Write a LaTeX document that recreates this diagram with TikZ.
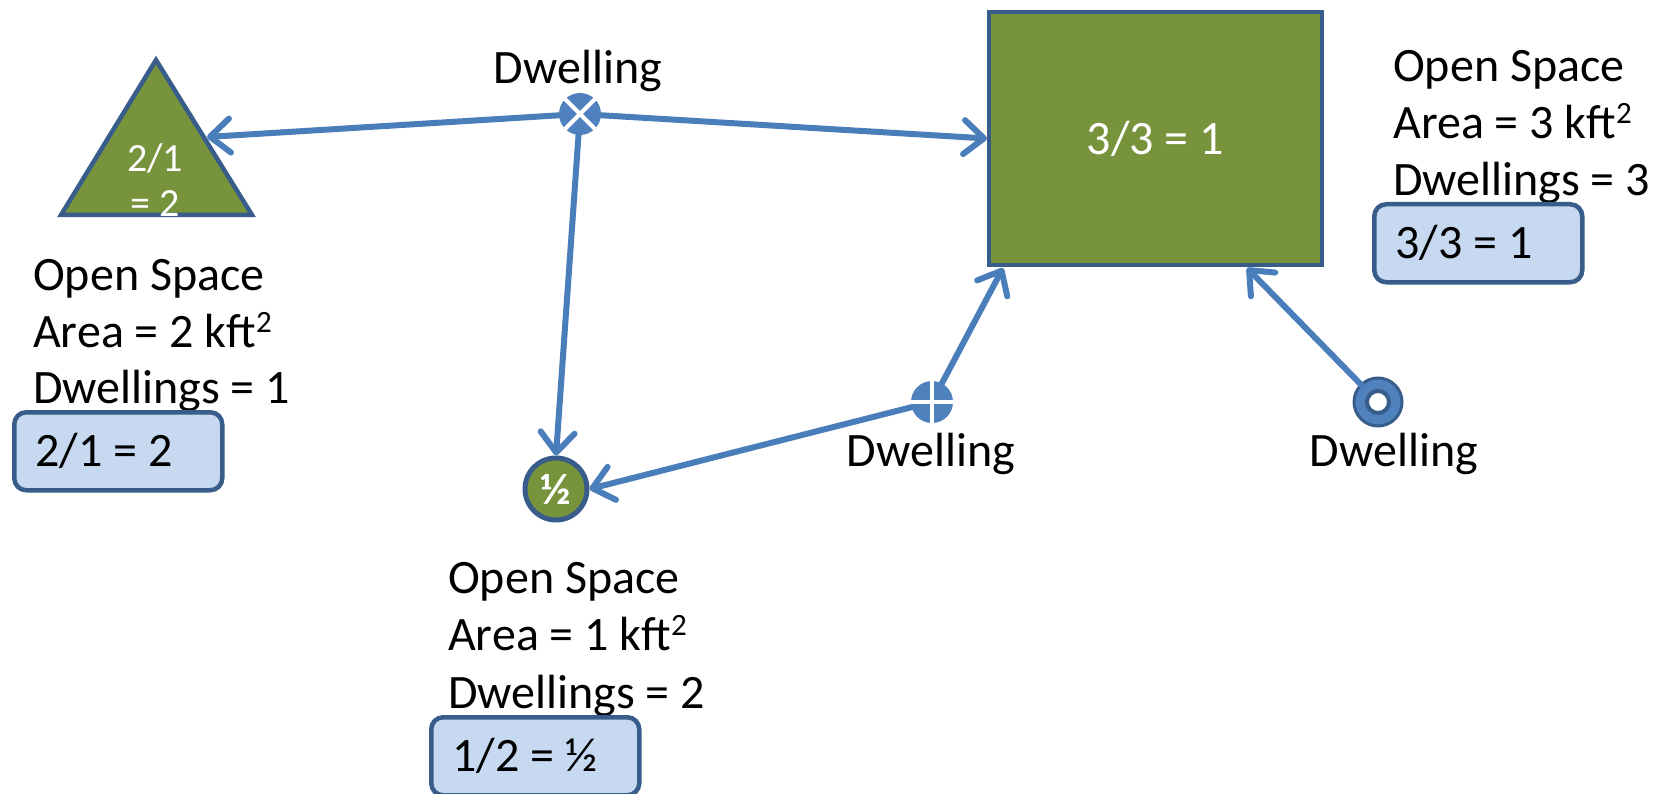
\documentclass[tikz,border=0pt]{standalone}
\usepackage{fontspec}
\setmainfont{Carlito}
\usetikzlibrary{arrows.meta,shapes.geometric}
\definecolor{osgreen}{HTML}{77933C}
\definecolor{edgeblue}{HTML}{385D8A}
\definecolor{arrowblue}{HTML}{4A7EBB}
\definecolor{dwellblue}{HTML}{4F81BD}
\definecolor{boxblue}{HTML}{C6D9F1}
\newcommand{\sqft}{\raisebox{15pt}{\fontsize{31}{31}\selectfont 2}}
\newcommand{\lefttext}[1]{\makebox[166pt][l]{#1}}
\tikzset{
  big/.style={font=\fontsize{48}{57}\selectfont},
  lbl/.style={big, anchor=base west, inner sep=0pt},
  dlbl/.style={big, anchor=base, inner sep=0pt},
  ratio/.style={big, draw=edgeblue, line width=4.5pt, fill=boxblue, rounded corners=12pt,
    minimum width=208pt, minimum height=78pt, anchor=north west,
    inner xsep=21pt, inner ysep=0pt},
  link/.style={draw=arrowblue, line width=6pt, line cap=round,
    -{Straight Barb[length=20pt,width=34pt,round]}},
  dwell/.style={circle, fill=dwellblue, minimum size=42pt, inner sep=0pt, outer sep=0pt},
  shapetext/.style={text=white, inner sep=0pt}
}
\begin{document}
\begin{tikzpicture}[x=1pt,y=-1pt]
\useasboundingbox[fill=white] (0,0) rectangle (1664,794);

% open spaces
\draw[fill=osgreen, draw=edgeblue, line width=4.5pt, line join=miter]
  (156,60) -- (252,215) -- (61,215) -- cycle;
\node[shapetext, align=center, font=\fontsize{40}{45}\selectfont] (tritext) at (155,180) {2/1\\= 2};
\coordinate (triedge) at (207,137);

\node[draw=edgeblue, fill=osgreen, line width=4pt, minimum width=333pt, minimum height=253pt,
  inner sep=0pt, big, text=white] (sq) at (1155.5,138.5) {3/3 = 1};

\node[circle, draw=edgeblue, fill=osgreen, line width=5pt, minimum size=62pt, inner sep=0pt,
  text=white, font=\fontsize{44}{44}\selectfont\bfseries] (half) at (556,489) {½};

% dwellings
\node[dwell] (dX) at (580,114) {};
\draw[white, line width=4pt] (dX.north west) -- (dX.south east) (dX.north east) -- (dX.south west);
\node[dwell] (dP) at (932,402) {};
\draw[white, line width=4pt] (dP.north) -- (dP.south) (dP.west) -- (dP.east);
\node[dwell, draw=edgeblue, line width=3pt, minimum size=48pt] (dR) at (1378,402) {};
\node[circle, fill=white, draw=edgeblue, line width=4pt, minimum size=22pt, inner sep=0pt] (dRhole) at (dR) {};

\node[dlbl] (lX) at (578,84) {Dwelling};
\node[dlbl] (lP) at (931,466) {Dwelling};
\node[dlbl] (lR) at (1394,466) {Dwelling};

% connectors
\coordinate (sqA) at (1003,268);
\coordinate (sqB) at (1247,268);
\draw[link] (dX) -- (triedge);
\draw[link] (dX) -- (sq.west);
\draw[link] (dX) -- (half.north);
\draw[link] (dP) -- (half.east);
\draw[link] (dP) -- (sqA);
\draw[link] (dR) -- (sqB);

% text blocks
\node[lbl] (t1a) at (33,290) {Open Space};
\node[lbl] (t1b) at (33,347) {Area = 2 kft\sqft};
\node[lbl] (t1c) at (33,403) {Dwellings = 1};
\node[ratio] (r1) at (12,410) {\lefttext{2/1 = 2}};

\node[lbl] (t2a) at (1393,82) {Open Space};
\node[lbl] (t2b) at (1393,139) {Area = 3 kft\sqft};
\node[lbl] (t2c) at (1393,196) {Dwellings = 3};
\node[ratio] (r2) at (1372,202) {\lefttext{3/3 = 1}};

\node[lbl] (t3a) at (448,593) {Open Space};
\node[lbl] (t3b) at (448,650) {Area = 1 kft\sqft};
\node[lbl] (t3c) at (448,708) {Dwellings = 2};
\node[ratio] (r3) at (429,715) {\lefttext{1/2 = ½}};
\end{tikzpicture}
\end{document}
